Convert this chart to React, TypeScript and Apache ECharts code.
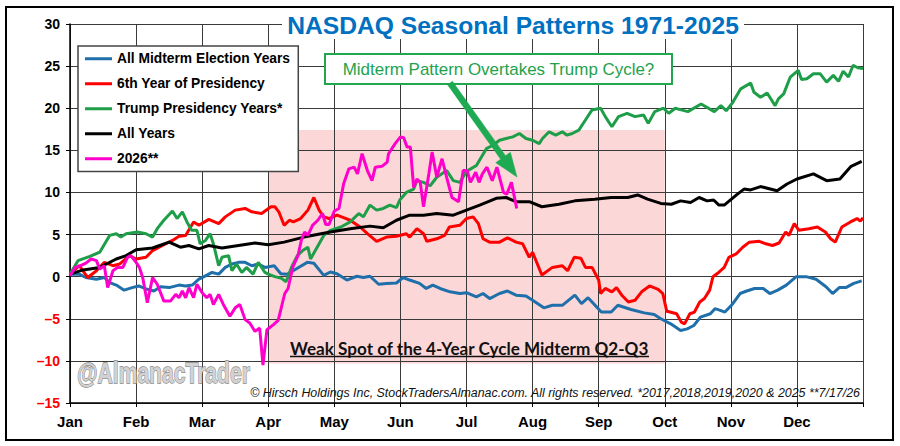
import React, { useEffect, useRef } from "react";
import * as echarts from "echarts";

const monthLabels = ["Jan", "Feb", "Mar", "Apr", "May", "Jun", "Jul", "Aug", "Sep", "Oct", "Nov", "Dec"];
const yTicks = { min: -15, max: 30, step: 5 };

const seriesNames = [
  "All Midterm Election Years",
  "6th Year of Presidency",
  "Trump Presidency Years*",
  "All Years",
  "2026**",
];
const seriesColors = ["#1F6FAA", "#FF0000", "#1E9E48", "#000000", "#FF00CC"];

const midtermYears: [number, number][] = [
  [0, 0.3], [0.14, 0.3], [0.24, -0.1], [0.4, -0.3], [0.52, -0.1], [0.6, -0.7], [0.7, -1.0], [0.82, -1.6],
  [0.94, -1.3], [1.04, -1.1], [1.17, -1.5], [1.27, -1.7], [1.37, -1.2], [1.5, -1.3], [1.65, -1.0], [1.75, -1.1],
  [1.85, -1.0], [1.95, -0.3], [2.05, 0.1], [2.15, 0.5], [2.25, 0.3], [2.35, 1.1], [2.45, 1.5], [2.55, 1.7],
  [2.65, 1.7], [2.75, 1.3], [2.85, 1.5], [2.95, 1.1], [3.09, 1.3], [3.19, 0.35], [3.29, 0.3], [3.44, 1.0],
  [3.59, 1.7], [3.69, 1.6], [3.84, 0.15], [3.94, 0.55], [4.04, 0.35], [4.19, -0.4], [4.34, 0.05], [4.44, -0.1],
  [4.54, 0.05], [4.67, -0.9], [4.79, -0.8], [4.94, -0.75], [5.04, -0.1], [5.14, -0.4], [5.29, -0.8], [5.39, -1.4],
  [5.49, -1.0], [5.6, -1.4], [5.75, -1.8], [5.9, -2.0], [6.0, -1.9], [6.15, -2.4], [6.25, -2.0], [6.35, -2.6],
  [6.5, -2.0], [6.62, -1.7], [6.75, -2.2], [6.9, -2.3], [7.0, -2.8], [7.17, -3.7], [7.3, -3.4], [7.45, -3.4],
  [7.64, -2.2], [7.74, -3.2], [7.84, -2.5], [8.04, -4.2], [8.19, -4.2], [8.29, -3.4], [8.49, -3.9], [8.69, -4.3],
  [8.84, -4.5], [8.94, -5.0], [9.09, -5.6], [9.24, -6.4], [9.34, -6.2], [9.44, -5.8], [9.54, -4.8], [9.69, -4.4],
  [9.76, -3.8], [9.84, -4.0], [9.91, -4.2], [10.01, -3.4], [10.14, -2.0], [10.24, -1.7], [10.36, -1.4], [10.49, -1.4],
  [10.59, -2.0], [10.71, -1.6], [10.84, -1.0], [10.99, 0.0], [11.14, 0.0], [11.29, -0.3], [11.44, -1.2], [11.54, -2.0],
  [11.64, -1.3], [11.74, -1.3], [11.86, -0.8], [11.98, -0.5],
];

const sixthYear: [number, number][] = [
  [0, 0.3], [0.14, 1.3], [0.27, -0.1], [0.4, 0.7], [0.52, 1.7], [0.65, 1.3], [0.75, 1.5], [0.9, 2.5],
  [1.0, 2.1], [1.15, 2.3], [1.25, 3.1], [1.4, 3.7], [1.55, 4.3], [1.65, 4.8], [1.75, 4.9], [1.87, 6.5],
  [1.95, 6.1], [2.1, 6.8], [2.25, 6.3], [2.35, 7.1], [2.5, 7.9], [2.65, 8.1], [2.75, 7.7], [2.9, 7.5],
  [3.04, 8.3], [3.1, 8.3], [3.16, 7.7], [3.24, 6.1], [3.32, 6.7], [3.38, 6.5], [3.49, 6.9], [3.6, 7.9],
  [3.69, 9.4], [3.77, 7.9], [3.84, 7.1], [3.92, 6.9], [4.04, 7.3], [4.14, 7.0], [4.24, 6.7], [4.39, 5.9],
  [4.5, 5.1], [4.64, 4.2], [4.79, 4.7], [4.94, 4.8], [5.09, 5.1], [5.14, 4.7], [5.25, 5.7], [5.35, 5.1],
  [5.4, 4.2], [5.55, 4.5], [5.67, 4.9], [5.74, 5.9], [5.9, 6.1], [6.0, 6.9], [6.1, 7.1], [6.18, 6.3],
  [6.25, 4.5], [6.35, 4.1], [6.5, 4.1], [6.62, 4.6], [6.75, 4.1], [6.85, 3.9], [6.95, 2.3], [7.0, 2.9],
  [7.14, 0.2], [7.3, 1.1], [7.45, 1.3], [7.53, 0.7], [7.63, 2.3], [7.73, 2.2], [7.8, 1.1], [7.9, 1.1],
  [8.0, -0.4], [8.03, -2.0], [8.1, -1.4], [8.2, -1.8], [8.27, -1.3], [8.35, -2.2], [8.45, -3.0], [8.55, -2.8],
  [8.65, -1.8], [8.77, -1.1], [8.9, -1.5], [8.97, -2.0], [9.03, -4.1], [9.08, -4.2], [9.18, -4.4], [9.25, -5.4],
  [9.3, -5.6], [9.38, -4.4], [9.45, -4.2], [9.53, -3.0], [9.6, -2.6], [9.68, -1.6], [9.73, 0], [9.8, 0.4],
  [9.9, 1.1], [9.97, 2.3], [10.08, 2.7], [10.18, 3.5], [10.28, 4.1], [10.43, 4.2], [10.53, 3.9], [10.63, 3.7],
  [10.73, 4.0], [10.83, 5.3], [10.88, 4.9], [10.96, 6.3], [11.03, 5.5], [11.18, 5.7], [11.31, 5.9], [11.43, 5.3],
  [11.51, 4.5], [11.58, 4.1], [11.68, 5.9], [11.81, 6.5], [11.91, 6.9], [11.96, 6.6], [12.0, 7.0],
];

const trumpYears: [number, number][] = [
  [0, 0.3], [0.12, 1.9], [0.3, 2.4], [0.45, 2.9], [0.6, 4.9], [0.7, 5.1], [0.77, 4.7], [0.85, 5.1],
  [1.02, 5.3], [1.15, 5.1], [1.25, 4.7], [1.32, 5.7], [1.42, 6.7], [1.55, 7.8], [1.62, 6.9], [1.7, 7.7],
  [1.77, 6.5], [1.84, 5.5], [1.92, 5.5], [1.97, 3.9], [2.05, 4.3], [2.12, 5.1], [2.17, 3.9], [2.25, 1.3],
  [2.3, 2.3], [2.4, 2.5], [2.45, 0.7], [2.52, 1.5], [2.6, 0.5], [2.67, 1.1], [2.77, 0.3], [2.85, 1.7],
  [2.95, 0.5], [3.0, 0.3], [3.1, 0], [3.2, -0.2], [3.27, -0.6], [3.35, 1.1], [3.44, 2.5], [3.52, 3.1],
  [3.6, 3.5], [3.64, 2.1], [3.74, 3.5], [3.84, 4.9], [3.94, 5.5], [4.1, 5.9], [4.24, 6.5], [4.37, 7.5],
  [4.44, 7.1], [4.54, 8.5], [4.64, 7.9], [4.74, 8.1], [4.84, 8.5], [4.94, 8.2], [4.99, 9.1], [5.09, 10.0],
  [5.2, 10.4], [5.25, 11.4], [5.35, 11.2], [5.45, 10.8], [5.55, 11.8], [5.7, 12.6], [5.8, 11.4], [5.9, 11.2],
  [6.0, 12.5], [6.15, 13.2], [6.3, 15.2], [6.4, 15.6], [6.5, 16.2], [6.6, 16.4], [6.7, 16.6], [6.8, 17.0],
  [6.9, 16.4], [7.0, 16.2], [7.1, 15.8], [7.15, 16.4], [7.25, 17.2], [7.35, 16.8], [7.45, 17.2], [7.52, 16.8],
  [7.6, 17.0], [7.7, 17.4], [7.8, 18.6], [7.9, 19.8], [8.03, 20.0], [8.1, 19.0], [8.2, 17.8], [8.3, 19.0],
  [8.43, 19.4], [8.55, 19.0], [8.68, 19.2], [8.75, 18.2], [8.85, 19.6], [8.98, 20.0], [9.06, 19.4], [9.16, 20.0],
  [9.25, 19.8], [9.35, 19.6], [9.55, 20.5], [9.75, 19.6], [9.85, 20.3], [9.93, 19.7], [10.03, 20.7], [10.15, 22.3],
  [10.3, 23.0], [10.35, 21.9], [10.45, 21.3], [10.55, 21.8], [10.67, 20.3], [10.72, 21.1], [10.8, 21.7], [10.9, 23.7],
  [11.02, 24.5], [11.07, 23.4], [11.15, 23.5], [11.25, 24.1], [11.35, 24.1], [11.45, 23.1], [11.55, 23.9], [11.63, 23.2],
  [11.7, 24.4], [11.78, 23.7], [11.85, 25.1], [11.92, 24.8], [12.0, 24.7],
];

const allYears: [number, number][] = [
  [0, 0.3], [0.2, 0.8], [0.45, 1.1], [0.7, 2.1], [0.85, 2.5], [1.0, 3.2], [1.25, 3.4], [1.5, 4.1],
  [1.67, 3.5], [1.8, 3.7], [1.95, 3.3], [2.1, 3.7], [2.3, 3.4], [2.55, 3.7], [2.8, 4.0], [3.0, 3.8],
  [3.24, 4.1], [3.54, 4.7], [3.94, 5.3], [4.24, 5.7], [4.54, 6.0], [4.74, 5.8], [4.94, 6.7], [5.14, 7.3],
  [5.35, 7.3], [5.55, 7.5], [5.8, 7.3], [6.0, 7.9], [6.2, 8.5], [6.45, 9.3], [6.6, 9.4], [6.75, 8.9],
  [6.95, 8.9], [7.14, 8.3], [7.4, 8.6], [7.64, 9.0], [7.94, 9.2], [8.19, 9.4], [8.44, 9.4], [8.59, 9.7],
  [8.74, 9.2], [8.94, 8.7], [9.1, 8.6], [9.24, 9.0], [9.39, 8.8], [9.52, 9.4], [9.64, 9.0], [9.74, 9.1],
  [9.82, 8.5], [9.9, 8.5], [10.1, 9.8], [10.2, 10.4], [10.3, 10.3], [10.45, 10.7], [10.7, 10.2], [10.85, 11.0],
  [11.0, 11.6], [11.25, 12.2], [11.45, 11.4], [11.65, 11.6], [11.82, 13.1], [11.98, 13.7],
];

const year2026: [number, number][] = [
  [0, 0.1], [0.08, 1.1], [0.16, 1.3], [0.24, 1.6], [0.32, 2.1], [0.4, 1.9], [0.45, 0.9], [0.52, 1.3],
  [0.57, -1.3], [0.65, 0.7], [0.72, 1.1], [0.8, 1.1], [0.87, 2.3], [0.92, 2.5], [1.0, 1.7], [1.05, 1.1],
  [1.1, -0.1], [1.17, -3.1], [1.25, -0.1], [1.32, -0.9], [1.42, -2.9], [1.52, -2.9], [1.6, -2.1], [1.65, -2.5],
  [1.7, -1.7], [1.75, -2.5], [1.8, -1.3], [1.87, -2.5], [1.92, -0.9], [2.0, -1.9], [2.07, -2.5], [2.12, -2.1],
  [2.17, -3.3], [2.25, -2.1], [2.32, -3.3], [2.42, -4.7], [2.5, -3.7], [2.57, -3.3], [2.65, -5.1], [2.72, -5.5],
  [2.8, -6.5], [2.87, -6.1], [2.92, -10.5], [2.98, -6.3], [3.08, -5.7], [3.15, -5.2], [3.2, -3.6], [3.25, -2.0],
  [3.3, -1.4], [3.37, 1.1], [3.45, 2.5], [3.5, 4.3], [3.55, 5.3], [3.6, 4.9], [3.67, 6.1], [3.75, 6.7],
  [3.82, 7.5], [3.87, 6.2], [3.92, 6.2], [4.0, 7.8], [4.07, 8.1], [4.14, 11.0], [4.22, 12.8], [4.3, 13.0],
  [4.35, 12.2], [4.42, 14.6], [4.5, 12.6], [4.57, 11.4], [4.62, 13.0], [4.72, 13.1], [4.8, 13.6], [4.82, 14.6],
  [4.92, 15.8], [5.0, 16.6], [5.05, 16.5], [5.1, 15.4], [5.15, 15.4], [5.2, 10.6], [5.25, 11.6], [5.3, 11.2],
  [5.35, 8.3], [5.43, 12.2], [5.48, 14.8], [5.55, 11.8], [5.63, 14.0], [5.7, 11.8], [5.78, 9.4], [5.88, 8.9],
  [5.95, 12.6], [6.01, 12.6], [6.06, 11.2], [6.14, 12.4], [6.19, 11.2], [6.24, 12.2], [6.31, 13.0], [6.39, 11.4],
  [6.46, 13.0], [6.56, 10.0], [6.61, 9.8], [6.68, 11.2], [6.76, 8.1],
];

// shaded "weak spot" zone: [fromMonth, top %, toMonth, bottom %]
const shadedZone: [number, number, number, number][] = [[3, 17.4, 9, -10.3]];

const titleText = "NASDAQ Seasonal Patterns 1971-2025";
const calloutText = "Midterm Pattern Overtakes Trump Cycle?";
const zoneText = "Weak Spot of the 4-Year Cycle Midterm Q2-Q3";
const watermarkText = "@AlmanacTrader";
const creditText =
  "\u00A9 Hirsch Holdings Inc, StockTradersAlmanac.com. All rights reserved. *2017,2018,2019,2020 & 2025 **7/17/26";

const ARIAL = "'Liberation Sans', Arial, Helvetica, sans-serif";
const CALIBRI = "Lato, 'Open Sans', sans-serif";

function textWidth(text: string, font: string): number {
  const ctx = document.createElement("canvas").getContext("2d");
  if (!ctx) return text.length * 10;
  ctx.font = font;
  return ctx.measureText(text).width || 1;
}

function fitSize(text: string, family: string, weight: string, style: string, target: number): number {
  const w = textWidth(text, `${style} ${weight} 20px ${family}`);
  return (20 * target) / w;
}

export default function App() {
  const ref = useRef<HTMLDivElement>(null);

  useEffect(() => {
    if (!ref.current) return;
    const chart = echarts.init(ref.current, undefined, { renderer: "svg" });

    const titleSize = fitSize(titleText, ARIAL, "bold", "normal", 452);
    const calloutSize = fitSize(calloutText, ARIAL, "normal", "normal", 312);
    const zoneSize = fitSize(zoneText, CALIBRI, "bold", "normal", 359);
    const creditSize = fitSize(creditText, ARIAL, "normal", "italic", 611);
    const wmFont = `bold 30px ${ARIAL}`;
    const wmScale = 173 / textWidth(watermarkText, wmFont);

    const datasets = [midtermYears, sixthYear, trumpYears, allYears, year2026];

    const lineSeries = datasets.map((d, i) => ({
      name: seriesNames[i],
      type: "line",
      data: d,
      showSymbol: false,
      symbol: "none",
      z: 5 + i,
      lineStyle: { color: seriesColors[i], width: 3 },
      itemStyle: { color: seriesColors[i] },
    }));

    const ax0 = 450, ay0 = 83, ax1 = 517, ay1 = 177;
    const dx = ax1 - ax0, dy = ay1 - ay0;
    const len = Math.sqrt(dx * dx + dy * dy);
    const ux = dx / len, uy = dy / len;
    const px = -uy, py = ux;
    const hw = 3, headLen = 24, headHw = 9;
    const bx = ax1 - ux * headLen, by = ay1 - uy * headLen;
    const arrowPts = [
      [ax0 + px * hw, ay0 + py * hw],
      [bx + px * hw, by + py * hw],
      [bx + px * headHw, by + py * headHw],
      [ax1, ay1],
      [bx - px * headHw, by - py * headHw],
      [bx - px * hw, by - py * hw],
      [ax0 - px * hw, ay0 - py * hw],
    ];

    const option: any = {
      animation: false,
      backgroundColor: "#ffffff",
      grid: { left: 70, right: 37, top: 24, bottom: 43, containLabel: false },
      legend: {
        data: seriesNames,
        orient: "vertical",
        left: 78,
        top: 46,
        padding: [5, 8, 5, 7],
        backgroundColor: "#ffffff",
        borderColor: "#444",
        borderWidth: 1.5,
        itemWidth: 27,
        itemHeight: 3,
        itemGap: 9.5,
        icon: "rect",
        textStyle: { color: "#000", fontWeight: "bold", fontSize: 13.8, fontFamily: ARIAL, lineHeight: 15.5 },
        z: 20,
      },
      xAxis: {
        type: "value",
        min: 0,
        max: 12,
        interval: 1,
        z: 3,
        axisLine: { onZero: false, lineStyle: { color: "#000", width: 1.5 } },
        axisTick: { show: true, length: 4, lineStyle: { color: "#000" } },
        axisLabel: {
          formatter: (v: number) => monthLabels[Math.round(v)] ?? "",
          color: "#000",
          fontWeight: "bold",
          fontSize: 15,
          fontFamily: ARIAL,
          margin: 11,
        },
        splitLine: { show: true, lineStyle: { color: "#3a3a3a", width: 1 } },
      },
      yAxis: {
        type: "value",
        min: yTicks.min,
        max: yTicks.max,
        interval: yTicks.step,
        position: "left",
        z: 3,
        axisLine: { show: true, onZero: false, lineStyle: { color: "#000", width: 1.5 } },
        axisTick: { show: true, length: 4, lineStyle: { color: "#000" } },
        axisLabel: {
          fontWeight: "bold",
          fontSize: 14,
          fontFamily: ARIAL,
          margin: 10,
          color: "#000000",
          formatter: (v: number) => (v < 0 ? `{neg|\u2013${Math.abs(v)}}` : `{pos|${v}}`),
          rich: {
            neg: { color: "#FF0000", fontWeight: "bold", fontSize: 14, fontFamily: ARIAL },
            pos: { color: "#000000", fontWeight: "bold", fontSize: 14, fontFamily: ARIAL },
          },
        },
        splitLine: { show: true, lineStyle: { color: "#3a3a3a", width: 1 } },
      },
      series: [
        {
          name: "_zone",
          type: "custom",
          silent: true,
          z: 1,
          data: shadedZone,
          encode: { x: [0, 2], y: [1, 3] },
          renderItem: (_params: any, api: any) => {
            const p1 = api.coord([api.value(0), api.value(1)]);
            const p2 = api.coord([api.value(2), api.value(3)]);
            return {
              type: "rect",
              shape: { x: p1[0], y: p1[1], width: p2[0] - p1[0], height: p2[1] - p1[1] },
              style: { fill: "rgba(240,55,55,0.2)" },
            };
          },
        },
        ...lineSeries,
      ],
      graphic: [
        {
          type: "rect",
          z: 100,
          shape: { x: 6, y: 7, width: 887, height: 433 },
          style: { fill: "none", stroke: "#000", lineWidth: 2 },
        },
        {
          type: "rect",
          z: 100,
          shape: { x: 282, y: 9, width: 462, height: 30 },
          style: { fill: "#ffffff" },
        },
        {
          type: "text",
          z: 101,
          x: 513,
          y: 25,
          style: {
            text: titleText,
            fill: "#0070C0",
            font: `bold ${titleSize.toFixed(2)}px ${ARIAL}`,
            align: "center",
            verticalAlign: "middle",
          },
        },
        {
          type: "rect",
          z: 100,
          shape: { x: 325, y: 54, width: 347, height: 30 },
          style: { fill: "#ffffff", stroke: "#22A74F", lineWidth: 2 },
        },
        {
          type: "text",
          z: 101,
          x: 498.5,
          y: 69.5,
          style: {
            text: calloutText,
            fill: "#1FA24C",
            font: `normal ${calloutSize.toFixed(2)}px ${ARIAL}`,
            align: "center",
            verticalAlign: "middle",
          },
        },
        {
          type: "polygon",
          z: 102,
          shape: { points: arrowPts },
          style: { fill: "#1DAA52", stroke: "#1DAA52", lineWidth: 0.5 },
        },
        {
          type: "text",
          z: 100,
          x: 290,
          y: 348,
          style: {
            text: zoneText,
            fill: "#111",
            font: `bold ${zoneSize.toFixed(2)}px ${CALIBRI}`,
            align: "left",
            verticalAlign: "middle",
          },
        },
        {
          type: "line",
          z: 100,
          shape: { x1: 290, y1: 356.5, x2: 649, y2: 356.5 },
          style: { stroke: "#111", lineWidth: 1.5 },
        },
        {
          type: "text",
          z: 100,
          x: 77,
          y: 373,
          scaleX: wmScale,
          scaleY: 1,
          style: {
            text: watermarkText,
            fill: "#d2d2d2",
            stroke: "#8a8a8a",
            lineWidth: 1.3,
            font: wmFont,
            align: "left",
            verticalAlign: "middle",
          },
        },
        {
          type: "text",
          z: 100,
          x: 860,
          y: 393,
          style: {
            text: creditText,
            fill: "#111",
            font: `italic normal ${creditSize.toFixed(2)}px ${ARIAL}`,
            align: "right",
            verticalAlign: "middle",
          },
        },
      ],
    };

    chart.setOption(option);
    return () => chart.dispose();
  }, []);

  return (
    <div
      ref={ref}
      style={{ position: "absolute", left: 0, top: 0, width: 900, height: 446, background: "#fff" }}
    />
  );
}
